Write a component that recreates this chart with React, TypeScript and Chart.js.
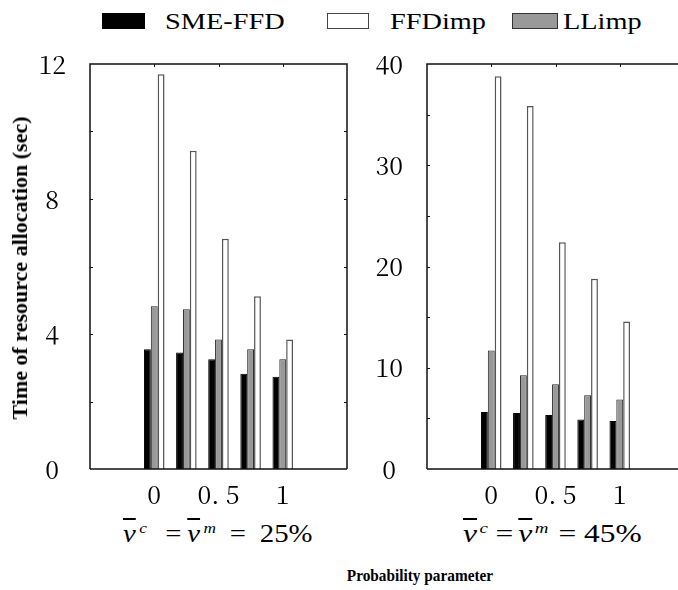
import React, { useEffect, useRef } from 'react';
import { Chart, registerables } from 'chart.js';

Chart.register(...registerables);

// ---- data ----
const groupPositions = [0, 0.25, 0.5, 0.75, 1];
const xTickValues = [0, 0.5, 1];
const xTickLabels = ['0', '0. 5', '1'];
const seriesNames = ['SME-FFD', 'FFDimp', 'LLimp'];

const leftSME = [3.55, 3.45, 3.25, 2.82, 2.73];
const leftFFD = [11.7, 9.43, 6.82, 5.12, 3.84];
const leftLL = [4.82, 4.73, 3.84, 3.55, 3.25];

const rightSME = [5.64, 5.54, 5.34, 4.89, 4.75];
const rightFFD = [38.8, 35.85, 22.4, 18.8, 14.58];
const rightLL = [11.71, 9.27, 8.38, 7.29, 6.86];

const leftYTicks = [0, 4, 8, 12];
const leftYMarks = [2, 4, 6, 8, 10];
const rightYTicks = [0, 10, 20, 30, 40];
const rightYMarks = [5, 10, 15, 20, 25, 30, 35];

const leftPct = '25%';
const rightPct = '45%';
const yTitle = 'Time of resource allocation (sec)';
const xTitle = 'Probability parameter';

const SERIF = '"Liberation Serif", serif';
const TICKFONT = '"Noto Serif CJK JP", "Liberation Serif", serif';

type PanelProps = {
  sme: number[];
  ffd: number[];
  ll: number[];
  yMax: number;
  yTicks: number[];
  yMarks: number[];
  drawRight: boolean;
  left: number;
};

function BarPanel({ sme, ffd, ll, yMax, yTicks, yMarks, drawRight, left }: PanelProps) {
  const ref = useRef<HTMLCanvasElement>(null);
  useEffect(() => {
    if (!ref.current) return;
    const mk = (vals: number[]) => groupPositions.map((x, i) => ({ x, y: vals[i] }));
    const framePlugin = {
      id: 'frame',
      afterDraw(chart: any) {
        const { ctx, chartArea: a, scales } = chart;
        const xs = scales.x;
        const ys = scales.y;
        ctx.save();
        ctx.strokeStyle = '#111';
        ctx.lineWidth = 1.5;
        ctx.beginPath();
        ctx.moveTo(a.left, a.bottom);
        ctx.lineTo(a.left, a.top);
        ctx.lineTo(a.right, a.top);
        if (drawRight) ctx.lineTo(a.right, a.bottom);
        ctx.moveTo(a.left, a.bottom);
        ctx.lineTo(a.right, a.bottom);
        ctx.stroke();
        ctx.lineWidth = 1;
        ctx.beginPath();
        for (const v of yMarks) {
          const p = Math.round(ys.getPixelForValue(v)) + 0.5;
          ctx.moveTo(a.left, p);
          ctx.lineTo(a.left + 3, p);
          if (drawRight) {
            ctx.moveTo(a.right, p);
            ctx.lineTo(a.right - 3, p);
          }
        }
        for (const v of xTickValues) {
          const p = Math.round(xs.getPixelForValue(v)) + 0.5;
          ctx.moveTo(p, a.top);
          ctx.lineTo(p, a.top + 3);
        }
        ctx.stroke();
        ctx.restore();
      },
    };
    const chart = new Chart(ref.current, {
      type: 'bar',
      data: {
        datasets: [
          { label: seriesNames[0], data: mk(sme) as any, backgroundColor: '#000', borderColor: '#000', borderWidth: 1 },
          { label: seriesNames[2], data: mk(ll) as any, backgroundColor: '#999', borderColor: '#222', borderWidth: 1 },
          { label: seriesNames[1], data: mk(ffd) as any, backgroundColor: '#fff', borderColor: '#555', borderWidth: 1.5 },
        ],
      },
      options: {
        animation: false,
        responsive: false,
        maintainAspectRatio: false,
        layout: { padding: { top: 14, right: 13, bottom: 6, left: 0 } },
        plugins: { legend: { display: false }, tooltip: { enabled: false } },
        datasets: { bar: { categoryPercentage: 0.64, barPercentage: 1, borderSkipped: 'start' } } as any,
        scales: {
          x: {
            type: 'linear',
            min: -0.5,
            max: 1.5,
            offset: false,
            bounds: 'data',
            grid: { display: false, offset: false },
            border: { display: false },
            afterBuildTicks: (s: any) => {
              s.ticks = xTickValues.map((v) => ({ value: v }));
            },
            afterFit: (s: any) => {
              s.height = 35;
              s.paddingLeft = 0;
              s.paddingRight = 0;
            },
            ticks: {
              callback: (_v: any, i: number) => xTickLabels[i],
              font: { family: TICKFONT, size: 25 },
              color: '#000',
              padding: 2,
              maxRotation: 0,
              autoSkip: false,
            },
          },
          y: {
            min: 0,
            max: yMax,
            grid: { display: false },
            border: { display: false },
            afterBuildTicks: (s: any) => {
              s.ticks = yTicks.map((v) => ({ value: v }));
            },
            afterFit: (s: any) => {
              s.width = 60;
              s.paddingTop = 0;
              s.paddingBottom = 0;
            },
            ticks: {
              font: { family: TICKFONT, size: 25 },
              color: '#000',
              padding: 16,
              crossAlign: 'center',
            },
          },
        },
      } as any,
      plugins: [framePlugin],
    });
    return () => chart.destroy();
  }, []);
  return (
    <canvas
      ref={ref}
      width={330}
      height={460}
      style={{ position: 'absolute', left, top: 50, width: 330, height: 460 }}
    />
  );
}

function Subtitle({ pct, left, gaps, scale }: { pct: string; left: number; gaps: number[]; scale: number }) {
  const sup: React.CSSProperties = { fontSize: 15, fontStyle: 'italic', position: 'relative', top: -9 };
  const vbar: React.CSSProperties = { fontStyle: 'italic', textDecoration: 'overline' };
  return (
    <div
      style={{
        position: 'absolute',
        left,
        top: 519,
        fontFamily: SERIF,
        fontSize: 25,
        lineHeight: '30px',
        whiteSpace: 'nowrap',
        transform: `scaleX(${scale})`,
        transformOrigin: 'left top',
        color: '#000',
      }}
    >
      <span style={vbar}>v</span>
      <span style={{ ...sup, marginLeft: gaps[0] }}>c</span>
      <span style={{ marginLeft: gaps[1] }}>=</span>
      <span style={{ ...vbar, marginLeft: gaps[2] }}>v</span>
      <span style={{ ...sup, marginLeft: gaps[3] }}>m</span>
      <span style={{ marginLeft: gaps[4] }}>=</span>
      <span style={{ marginLeft: gaps[5] }}>{pct}</span>
    </div>
  );
}

function LegendItem({ boxLeft, boxWidth, fill, border, textLeft, label }: any) {
  return (
    <>
      <div
        style={{
          position: 'absolute',
          left: boxLeft,
          top: 13,
          width: boxWidth,
          height: 16,
          boxSizing: 'border-box',
          background: fill,
          border: `1px solid ${border}`,
        }}
      />
      <div
        style={{
          position: 'absolute',
          left: textLeft,
          top: 9,
          fontFamily: SERIF,
          fontSize: 24,
          lineHeight: '24px',
          whiteSpace: 'nowrap',
          transform: 'scaleX(1.18)',
          transformOrigin: 'left top',
          color: '#000',
        }}
      >
        {label}
      </div>
    </>
  );
}

export default function App() {
  return (
    <div
      style={{
        position: 'absolute',
        left: 0,
        top: 0,
        width: 678,
        height: 590,
        overflow: 'hidden',
        background: '#fff',
      }}
    >
      <LegendItem boxLeft={102} boxWidth={43} fill="#000" border="#000" textLeft={165} label={seriesNames[0]} />
      <LegendItem boxLeft={327} boxWidth={42} fill="#fff" border="#444" textLeft={390} label={seriesNames[1]} />
      <LegendItem boxLeft={512} boxWidth={46} fill="#999" border="#333" textLeft={563} label={seriesNames[2]} />

      <BarPanel sme={leftSME} ffd={leftFFD} ll={leftLL} yMax={12} yTicks={leftYTicks} yMarks={leftYMarks} drawRight={true} left={30} />
      <BarPanel sme={rightSME} ffd={rightFFD} ll={rightLL} yMax={40} yTicks={rightYTicks} yMarks={rightYMarks} drawRight={false} left={367} />

      <div
        style={{
          position: 'absolute',
          left: 20,
          top: 268,
          fontFamily: SERIF,
          fontWeight: 'bold',
          fontSize: 20,
          lineHeight: '20px',
          whiteSpace: 'nowrap',
          transform: 'translate(-50%, -50%) rotate(-90deg) scaleX(1.1)',
          color: '#000',
        }}
      >
        {yTitle}
      </div>

      <Subtitle pct={leftPct} left={123} gaps={[3, 16, 5, 3, 12, 12]} scale={1.15} />
      <Subtitle pct={rightPct} left={463} gaps={[2, 6, 4, 2, 8, 6]} scale={1.26} />

      <div
        style={{
          position: 'absolute',
          left: 420,
          top: 576,
          fontFamily: SERIF,
          fontWeight: 'bold',
          fontSize: 17,
          lineHeight: '18px',
          whiteSpace: 'nowrap',
          transform: 'translate(-50%, -50%) scaleX(0.9)',
          color: '#000',
        }}
      >
        {xTitle}
      </div>
    </div>
  );
}
